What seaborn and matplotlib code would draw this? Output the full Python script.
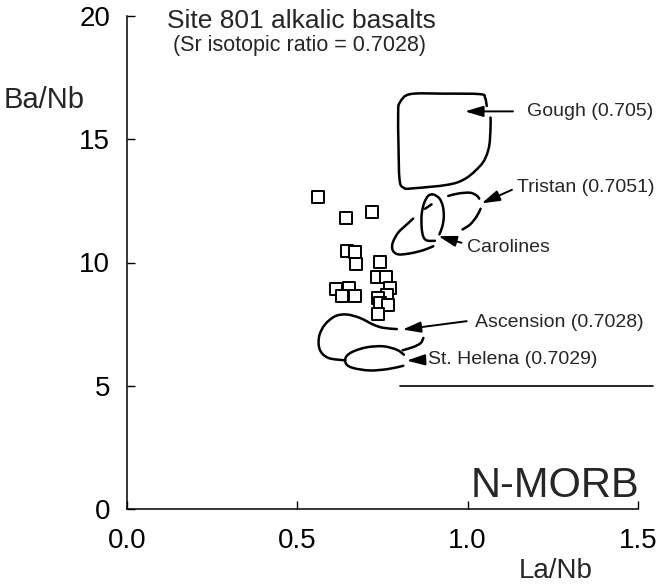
import numpy as np
import matplotlib
matplotlib.use("Agg")
import matplotlib.pyplot as plt
from matplotlib.path import Path
from matplotlib.patches import PathPatch
import seaborn as sns

# Site 801 alkalic basalt samples
sample_la_nb = [0.561, 0.642, 0.718, 0.645, 0.669, 0.671, 0.743, 0.735, 0.759, 0.613,
                0.653, 0.632, 0.669, 0.772, 0.762, 0.738, 0.743, 0.765, 0.738]
sample_ba_nb = [12.66, 11.79, 12.06, 10.46, 10.42, 9.95, 10.01, 9.42, 9.42, 8.94,
                8.97, 8.63, 8.63, 8.97, 8.70, 8.57, 8.36, 8.29, 7.91]

# Ocean-island field outlines (La/Nb, Ba/Nb)
gough_x = [1.056, 1.051, 1.036, 0.930, 0.831, 0.801, 0.796, 0.797, 0.800, 0.811, 0.840, 0.968, 1.036, 1.061, 1.067, 1.067]
gough_y = [16.35, 16.69, 16.83, 16.85, 16.83, 16.49, 16.09, 14.70, 13.37, 13.04, 13.01, 13.24, 13.91, 14.59, 15.41, 15.88]

tristan_top_x = [0.943, 0.973, 1.007, 1.026, 1.034]
tristan_top_y = [12.70, 12.80, 12.83, 12.72, 12.59]
tristan_right_x = [1.038, 1.026, 1.007, 0.985]
tristan_right_y = [12.18, 11.86, 11.54, 11.34]
tristan_left_x = [0.899, 0.870, 0.831, 0.796, 0.780, 0.780, 0.796, 0.821, 0.840]
tristan_left_y = [10.66, 10.50, 10.37, 10.33, 10.50, 10.80, 11.21, 11.54, 11.78]
tristan_inner_x = [0.875, 0.894]
tristan_inner_y = [12.18, 12.36]

carolines_x = [0.917, 0.926, 0.930, 0.927, 0.917, 0.899, 0.884, 0.872, 0.865, 0.865, 0.870, 0.881, 0.904]
carolines_y = [11.14, 11.48, 11.88, 12.29, 12.60, 12.76, 12.70, 12.40, 11.95, 11.41, 11.04, 10.89, 10.88]

ascension_upper_x = [0.792, 0.752, 0.723, 0.684, 0.645, 0.611, 0.581, 0.564, 0.566, 0.591, 0.640]
ascension_upper_y = [7.30, 7.35, 7.48, 7.75, 7.89, 7.82, 7.48, 7.00, 6.46, 6.13, 6.03]
ascension_lower_x = [0.809, 0.840, 0.862, 0.870]
ascension_lower_y = [6.44, 6.57, 6.73, 6.94]

helena_x = [0.813, 0.792, 0.752, 0.704, 0.664, 0.643, 0.643, 0.664, 0.713, 0.767, 0.811]
helena_y = [6.26, 6.46, 6.60, 6.56, 6.39, 6.17, 5.89, 5.72, 5.62, 5.68, 5.81]

# Field labels: text, text anchor, arrow tail, arrow tip
field_labels = ["Gough (0.705)", "Tristan (0.7051)", "Carolines", "Ascension (0.7028)", "St. Helena (0.7029)"]
label_x = [1.173, 1.144, 0.997, 1.021, 0.884]
label_y = [16.14, 13.05, 10.61, 7.56, 6.06]
arrow_tail_x = [1.133, 1.130, 0.982, 0.997, 0.875]
arrow_tail_y = [16.13, 12.95, 10.80, 7.62, 6.05]
arrow_tip_x = [0.992, 1.041, 0.914, 0.809, 0.821]
arrow_tip_y = [16.13, 12.40, 11.07, 7.28, 6.02]

morb_x = [0.80, 1.545]
morb_y = [5.0, 5.0]

x_ticks = [0.0, 0.5, 1.0, 1.5]
x_tick_labels = ["0.0", "0.5", "1.0", "1.5"]
y_ticks = [0, 5, 10, 15, 20]
y_tick_labels = ["0", "5", "10", "15", "20"]


def smooth_path(xs, ys, closed=False):
    """Catmull-Rom curve through the outline vertices, as cubic Bezier segments."""
    pts = np.column_stack([xs, ys]).astype(float)
    if closed:
        ext = np.vstack([pts[-1], pts, pts[0], pts[1]])
        n = len(pts)
    else:
        ext = np.vstack([pts[0], pts, pts[-1]])
        n = len(pts) - 1
    verts = [pts[0]]
    codes = [Path.MOVETO]
    for i in range(n):
        p0, p1, p2, p3 = ext[i], ext[i + 1], ext[i + 2], ext[i + 3]
        verts += [p1 + (p2 - p0) / 6.0, p2 - (p3 - p1) / 6.0, p2]
        codes += [Path.CURVE4] * 3
    return Path(verts, codes)


sns.set_style("ticks")
plt.rcParams["font.family"] = ["Liberation Sans", "DejaVu Sans"]

fig = plt.figure(figsize=(6.61, 5.88), dpi=100)
ax = fig.add_axes([127 / 661, 1 - 509 / 588, 511 / 661, 493 / 588])

outline_kw = dict(facecolor="none", edgecolor="black", linewidth=1.8, capstyle="round", joinstyle="round")
for xs, ys in [(gough_x, gough_y), (tristan_top_x, tristan_top_y), (tristan_right_x, tristan_right_y),
               (tristan_left_x, tristan_left_y), (tristan_inner_x, tristan_inner_y),
               (carolines_x, carolines_y), (ascension_upper_x, ascension_upper_y),
               (ascension_lower_x, ascension_lower_y), (helena_x, helena_y)]:
    ax.add_patch(PathPatch(smooth_path(xs, ys), **outline_kw))

sns.scatterplot(x=sample_la_nb, y=sample_ba_nb, marker="s", s=64, color="white",
                edgecolor="black", linewidth=1.4, ax=ax, zorder=3)

for txt, lx, ly, tx, ty, hx, hy in zip(field_labels, label_x, label_y,
                                       arrow_tail_x, arrow_tail_y, arrow_tip_x, arrow_tip_y):
    ax.annotate("", xy=(hx, hy), xytext=(tx, ty),
                arrowprops=dict(arrowstyle="-|>,head_length=1.1,head_width=0.33",
                                color="black", lw=1.4, shrinkA=0, shrinkB=0))
    ax.text(lx, ly, txt, ha="left", va="center", fontsize=14)

ax.plot(morb_x, morb_y, color="black", lw=1.2, clip_on=False)
ax.text(1.255, 0.95, "N-MORB", ha="center", va="center", fontsize=30)

ax.text(0.117, 19.8, "Site 801 alkalic basalts", ha="left", va="center", fontsize=19)
ax.text(0.135, 18.82, "(Sr isotopic ratio = 0.7028)", ha="left", va="center", fontsize=15.5)

ax.set_xlim(0, 1.5)
ax.set_ylim(0, 20)
ax.set_xticks(x_ticks)
ax.set_xticklabels(x_tick_labels)
ax.set_yticks(y_ticks)
ax.set_yticklabels(y_tick_labels)
ax.tick_params(direction="in", length=6, width=1.0, labelsize=20, colors="black")
ax.tick_params(axis="x", pad=14)
ax.tick_params(axis="y", pad=12)
for side in ["left", "bottom"]:
    ax.spines[side].set_linewidth(1.1)
    ax.spines[side].set_color("black")
sns.despine(ax=ax)

ax.set_xlabel("La/Nb", fontsize=20, va="center")
ax.set_ylabel("Ba/Nb", fontsize=21, rotation=0, ha="center", va="center")
ax.xaxis.set_label_coords(0.838, -0.126)
ax.yaxis.set_label_coords(-0.162, 0.830)

fig.savefig("out.png", dpi=100, facecolor="white")
